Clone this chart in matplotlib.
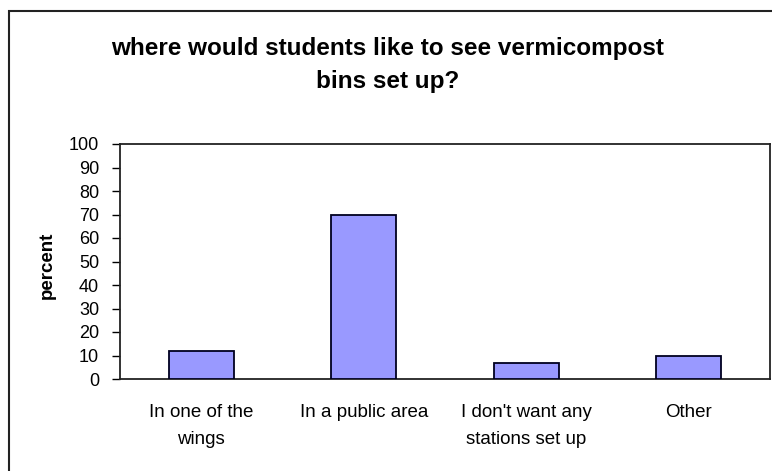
import matplotlib
matplotlib.use("Agg")
import matplotlib.pyplot as plt
from matplotlib.patches import Rectangle

categories = ["In one of the\nwings", "In a public area", "I don't want any\nstations set up", "Other"]
values = [12, 70, 7, 10]
yticks = [0, 10, 20, 30, 40, 50, 60, 70, 80, 90, 100]
title = "where would students like to see vermicompost\nbins set up?"
ylabel = "percent"

plt.rcParams['font.family'] = ['Liberation Sans', 'DejaVu Sans']

W, H = 772, 471
fig = plt.figure(figsize=(W / 100, H / 100), dpi=100)
fig.patch.set_facecolor("white")

# outer chart frame
fig.add_artist(Rectangle((9 / W, -0.1), 1.2, 1 - 11 / H + 0.1, transform=fig.transFigure,
                         fill=False, edgecolor="#222222", lw=1.5))

ax = fig.add_axes([120 / W, 1 - 379 / H, (770 - 120) / W, (379 - 144) / H])
x = range(len(categories))
ax.bar(x, values, width=0.40, color="#9999FF", edgecolor="#000020", linewidth=1.3, zorder=3)
ax.set_xlim(-0.5, len(categories) - 0.5)
ax.set_ylim(0, 100)
ax.set_yticks(yticks)
ax.set_yticklabels([str(t) for t in yticks], fontsize=13)
ax.set_xticks(list(x))
ax.set_xticklabels(categories, fontsize=13.5, linespacing=1.8)
ax.tick_params(axis='x', length=0, pad=18)
ax.tick_params(axis='y', direction='out', length=6, width=1, pad=9)
for s in ax.spines.values():
    s.set_linewidth(1.3)
    s.set_color("#222222")

fig.text(47 / W, 1 - 265 / H, ylabel, rotation=90, fontsize=13.5, fontweight='bold',
         ha='center', va='center')
fig.text(388 / W, 1 - 65 / H, title, fontsize=17.5, fontweight='bold', ha='center', va='center',
         linespacing=1.6)

fig.savefig("out.png", dpi=100)
